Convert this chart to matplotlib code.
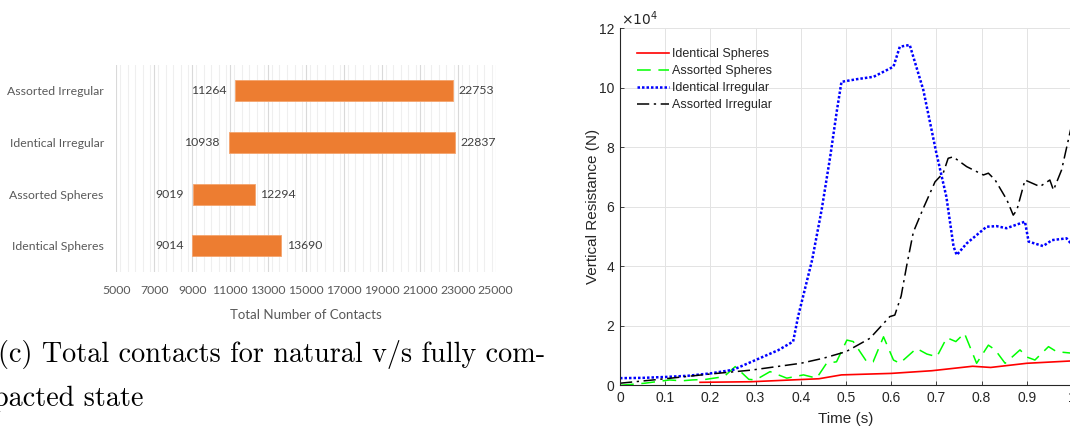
import matplotlib
matplotlib.use("Agg")
import matplotlib.pyplot as plt
import numpy as np
from matplotlib.ticker import MultipleLocator

# ---- left panel: total contacts, natural -> fully compacted ----
categories = ["Identical Spheres", "Assorted Spheres", "Identical Irregular", "Assorted Irregular"]
natural = [9014, 9019, 10938, 11264]
compacted = [13690, 12294, 22837, 22753]

# ---- right panel: vertical resistance (x1e4 N) vs time (s) ----
t_id_sph = [0.177, 0.29, 0.41, 0.44, 0.49, 0.60, 0.69, 0.78, 0.82, 0.90, 1.0]
v_id_sph = [0.10, 0.12, 0.20, 0.22, 0.35, 0.40, 0.49, 0.64, 0.60, 0.74, 0.82]

t_as_sph = [0.0, 0.055, 0.11, 0.136, 0.16, 0.19, 0.23, 0.255, 0.285, 0.30, 0.332, 0.369,
            0.406, 0.435, 0.457, 0.479, 0.502, 0.516, 0.546, 0.56, 0.583, 0.605, 0.619,
            0.656, 0.679, 0.701, 0.723, 0.743, 0.762, 0.789, 0.815, 0.83, 0.852, 0.885,
            0.90, 0.918, 0.948, 0.966, 1.0]
v_as_sph = [0.0, 0.07, 0.18, 0.15, 0.18, 0.20, 0.29, 0.63, 0.20, 0.18, 0.46, 0.24,
            0.35, 0.24, 0.74, 0.79, 1.52, 1.47, 0.79, 0.79, 1.63, 0.85, 0.74,
            1.24, 1.05, 0.96, 1.60, 1.47, 1.75, 0.74, 1.35, 1.19, 0.74, 1.19,
            0.95, 0.85, 1.30, 1.13, 1.08]

t_id_irr = [0.0, 0.05, 0.1, 0.15, 0.2, 0.25, 0.3, 0.35, 0.383, 0.394, 0.425, 0.446,
            0.465, 0.48, 0.49, 0.524, 0.561, 0.605, 0.619, 0.641, 0.671, 0.70, 0.722,
            0.738, 0.745, 0.767, 0.811, 0.833, 0.855, 0.896, 0.904, 0.936, 0.956,
            0.988, 1.0]
v_id_irr = [0.24, 0.25, 0.28, 0.32, 0.40, 0.52, 0.85, 1.18, 1.47, 2.31, 4.21, 5.89,
            7.68, 9.25, 10.2, 10.29, 10.37, 10.71, 11.38, 11.44, 9.93, 7.80, 6.34,
            4.66, 4.38, 4.77, 5.33, 5.35, 5.28, 5.50, 4.83, 4.68, 4.88,
            4.94, 4.72]

t_as_irr = [0.0, 0.1, 0.2, 0.29, 0.4, 0.45, 0.5, 0.553, 0.597, 0.608, 0.622, 0.634,
            0.649, 0.671, 0.697, 0.715, 0.726, 0.737, 0.767, 0.804, 0.815, 0.83,
            0.856, 0.87, 0.878, 0.896, 0.929, 0.951, 0.959, 0.977, 1.0]
v_as_irr = [0.07, 0.22, 0.38, 0.51, 0.74, 0.91, 1.13, 1.58, 2.31, 2.36, 3.0, 4.0,
            5.15, 5.95, 6.84, 7.13, 7.63, 7.68, 7.35, 7.07, 7.13, 6.90,
            6.23, 5.72, 5.89, 6.90, 6.68, 6.90, 6.56, 7.24, 8.8]

W, H = 1070, 432
fig = plt.figure(figsize=(W / 100, H / 100), dpi=100)

# ---------------- left: floating bar chart ----------------
excel_font = "Lato"
grey = "#595959"
ax1 = fig.add_axes([116.3 / W, 160.3 / H, 379.4 / W, 206.7 / H])
y = np.arange(len(categories))
spans = [c - n for n, c in zip(natural, compacted)]
ax1.barh(y, spans, left=natural, height=0.41, color="#ED7D31", edgecolor="#F4A46E", linewidth=0.6, zorder=3)
for i, (n, c) in enumerate(zip(natural, compacted)):
    ax1.annotate(str(n), xy=(n, i), xytext=(-6.5, 0), textcoords="offset points",
                 ha="right", va="center", fontsize=8.8, family=excel_font, color="#404040")
    ax1.annotate(str(c), xy=(c, i), xytext=(4, 0), textcoords="offset points",
                 ha="left", va="center", fontsize=8.8, family=excel_font, color="#404040")
ax1.set_xlim(5000, 25000)
ax1.set_ylim(-0.5, len(categories) - 0.5)
ax1.set_xticks(range(5000, 25001, 2000))
ax1.xaxis.set_minor_locator(MultipleLocator(400))
ax1.set_yticks(y)
ax1.set_yticklabels(categories)
ax1.grid(True, which="major", axis="x", color="#d9d9d9", linewidth=0.8, zorder=0)
ax1.grid(True, which="minor", axis="x", color="#efefef", linewidth=0.8, zorder=0)
for s in ax1.spines.values():
    s.set_visible(False)
ax1.tick_params(axis="both", which="both", length=0, colors=grey)
ax1.tick_params(axis="x", pad=9.5)
ax1.tick_params(axis="y", pad=9)
for lab in ax1.get_xticklabels() + ax1.get_yticklabels():
    lab.set_family(excel_font)
    lab.set_fontsize(8.8)
ax1.set_xlabel("Total Number of Contacts", family=excel_font, fontsize=9.5, color=grey)
ax1.xaxis.set_label_coords(0.5, -0.18)

fig.text(-2 / W, 1 - 362 / H, "(c) Total contacts for natural v/s fully com-",
         family="cmr10", fontsize=20.3, va="baseline", ha="left")
fig.text(-7 / W, 1 - 406 / H, "pacted state",
         family="cmr10", fontsize=20.3, va="baseline", ha="left")

# ---------------- right: MATLAB style line chart ----------------
mfont = "Liberation Sans"
dark = "#262626"
ax2 = fig.add_axes([620 / W, 46.7 / H, 452 / W, 357 / H])
ax2.plot(t_id_sph, v_id_sph, color="#ff0000", linewidth=1.2, label="Identical Spheres")
ax2.plot(t_as_sph, v_as_sph, color="#00ff00", linewidth=1.1, linestyle=(0, (9, 5)), label="Assorted Spheres")
ax2.plot(t_id_irr, v_id_irr, color="#0000ff", linewidth=1.8, linestyle=(0, (1, 0.8)), label="Identical Irregular")
ax2.plot(t_as_irr, v_as_irr, color="black", linewidth=1.1, linestyle=(0, (8, 3, 1.5, 3)), label="Assorted Irregular")
ax2.set_xlim(0, 1)
ax2.set_ylim(0, 12)
ax2.set_xticks(np.round(np.arange(0, 1.01, 0.1), 1))
ax2.set_xticklabels(["0", "0.1", "0.2", "0.3", "0.4", "0.5", "0.6", "0.7", "0.8", "0.9", "1"])
ax2.set_yticks(range(0, 13, 2))
ax2.grid(True, color="#e3e3e3", linewidth=0.7)
ax2.set_axisbelow(True)
for side in ("top", "right"):
    ax2.spines[side].set_visible(False)
for side in ("left", "bottom"):
    ax2.spines[side].set_color(dark)
    ax2.spines[side].set_linewidth(0.8)
ax2.tick_params(direction="in", length=3, width=0.6, colors=dark, labelsize=10, pad=4)
for lab in ax2.get_xticklabels() + ax2.get_yticklabels():
    lab.set_family(mfont)
ax2.set_xlabel("Time (s)", family=mfont, fontsize=11, color=dark)
ax2.xaxis.set_label_coords(0.5, -0.075)
ax2.set_ylabel("Vertical Resistance (N)", family=mfont, fontsize=11, color=dark)
ax2.yaxis.set_label_coords(-0.045, 0.5)
fig.text(621 / W, 1 - 25 / H, r"$\times10^{4}$", family=mfont, fontsize=10, color=dark, va="baseline")

leg = ax2.legend(loc="upper left", bbox_to_anchor=(636.7 / W, 1 - 48 / H), bbox_transform=fig.transFigure,
                 frameon=False, borderpad=0, borderaxespad=0, handlelength=2.6, handletextpad=0.25,
                 labelspacing=0.4, prop={"family": mfont, "size": 9})
for txt in leg.get_texts():
    txt.set_color(dark)

fig.savefig("out.png", dpi=100)
